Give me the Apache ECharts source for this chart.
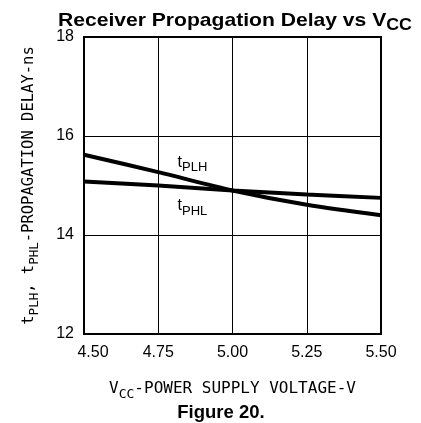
<!DOCTYPE html>
<html>
<head>
<meta charset="utf-8">
<script src="https://cdn.jsdelivr.net/npm/echarts@6/dist/echarts.min.js"></script>
<style>
html,body{margin:0;padding:0;background:#fff;}
#chart{width:421px;height:423px;}
</style>
</head>
<body>
<div id="chart"></div>
<script>
var vcc = [4.50, 4.75, 5.00, 5.25, 5.50];
var tPLH = [15.62, 15.27, 14.90, 14.61, 14.40];
var tPHL = [15.08, 15.00, 14.90, 14.82, 14.75];
var xTicks = [4.50, 4.75, 5.00, 5.25, 5.50];
var yTicks = [12, 14, 16, 18];

var chart = echarts.init(document.getElementById('chart'), null, {renderer: 'canvas'});
var sans = '"Liberation Sans", Arial, sans-serif';
var mono = '"DejaVu Sans Mono", monospace';

function pairs(xs, ys) { return xs.map(function (x, i) { return [x, ys[i]]; }); }

var subRich = function (family, size, subSize, weight) {
  return {
    m: {fontFamily: family, fontWeight: weight, fontSize: size, color: '#000', verticalAlign: 'bottom', lineHeight: size + 3},
    s: {fontFamily: family, fontWeight: weight, fontSize: subSize, color: '#000', verticalAlign: 'bottom', lineHeight: subSize + 2, padding: [0, 0, -4, 0]}
  };
};

var option = {
  animation: false,
  backgroundColor: '#fff',
  grid: {
    left: 84, right: 40, top: 37, bottom: 89,
    show: true, borderColor: '#000', borderWidth: 2, containLabel: false
  },
  xAxis: {
    type: 'value', min: 4.5, max: 5.5, interval: 0.25,
    axisLine: {show: false}, axisTick: {show: false},
    splitLine: {show: true, lineStyle: {color: '#000', width: 1}},
    axisLabel: {
      color: '#000', fontFamily: sans, fontSize: 16, margin: 11,
      formatter: function (v) {
        var s = v.toFixed(2);
        return v === xTicks[0] ? '{f|' + s + '}' : s;
      },
      rich: {f: {fontFamily: sans, fontSize: 16, color: '#000', padding: [0, 0, 0, 18]}},
      showMinLabel: true, showMaxLabel: true
    },
    name: '{m|V}{s|CC}{m|-POWER SUPPLY VOLTAGE-V}',
    nameLocation: 'middle', nameGap: 44,
    nameTextStyle: {rich: subRich(mono, 16, 13, 'normal')}
  },
  yAxis: {
    type: 'value', min: 12, max: 18, interval: 2,
    axisLine: {show: false}, axisTick: {show: false},
    splitLine: {show: true, lineStyle: {color: '#000', width: 1}},
    axisLabel: {color: '#000', fontFamily: sans, fontSize: 16, margin: 10},
    name: '{m|t}{s|PLH}{m|, t}{s|PHL}{m|-PROPAGATION DELAY-ns}',
    nameLocation: 'middle', nameRotate: 90, nameGap: 47,
    nameTextStyle: {rich: subRich(mono, 15.5, 12.5, 'normal')}
  },
  series: [
    {
      name: 'tPLH', type: 'line', data: pairs(vcc, tPLH), smooth: 0.3,
      symbol: 'none', lineStyle: {color: '#000', width: 4},
      markPoint: {
        symbol: 'circle', symbolSize: 0,
        label: {
          show: true, position: 'inside',
          formatter: '{m|t}{s|PLH}',
          rich: subRich(sans, 16, 13, 'normal')
        },
        data: [{coord: [4.865, 15.5]}]
      }
    },
    {
      name: 'tPHL', type: 'line', data: pairs(vcc, tPHL), smooth: 0.3,
      symbol: 'none', lineStyle: {color: '#000', width: 4},
      markPoint: {
        symbol: 'circle', symbolSize: 0,
        label: {
          show: true, position: 'inside',
          formatter: '{m|t}{s|PHL}',
          rich: subRich(sans, 16, 13, 'normal')
        },
        data: [{coord: [4.865, 14.62]}]
      }
    }
  ],
  graphic: [
    {
      type: 'text', x: 58, y: 8, scaleX: 1.11,
      style: {
        text: '{m|Receiver Propagation Delay vs V}{s|CC}',
        rich: subRich(sans, 19, 16, 'bold')
      }
    },
    {
      type: 'text', x: 221, y: 403,
      style: {text: 'Figure 20.', fontFamily: sans, fontWeight: 'bold', fontSize: 18.5, fill: '#000', align: 'center'}
    }
  ]
};
chart.setOption(option);
</script>
</body>
</html>
